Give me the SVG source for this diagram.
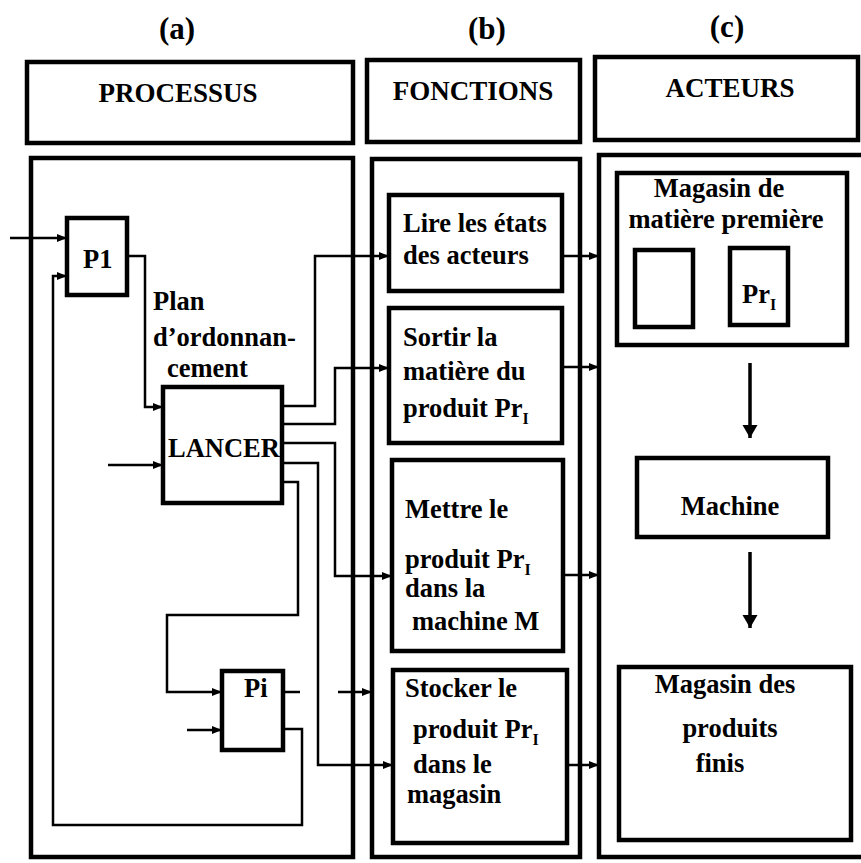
<svg xmlns="http://www.w3.org/2000/svg" width="861" height="863" viewBox="0 0 861 863">
<defs>
<style>
.t{font-family:"Liberation Serif","Times New Roman",serif;font-weight:bold;font-size:26.5px;fill:#000}
.h{font-size:27px}
.p{font-size:31px}
.sub{font-size:16px}
.panel{fill:none;stroke:#000;stroke-width:4.5}
.box{fill:none;stroke:#000;stroke-width:4.5}
.c{fill:none;stroke:#000;stroke-width:2.5;stroke-linejoin:miter}
.ca{marker-end:url(#ah)}
.big{fill:none;stroke:#000;stroke-width:3.5;marker-end:url(#ahb)}
</style>
<marker id="ah" markerUnits="userSpaceOnUse" markerWidth="11" markerHeight="10" refX="10" refY="5" orient="auto"><path d="M0,1 L10,5 L0,9 z" fill="#000"/></marker>
<marker id="ahb" markerUnits="userSpaceOnUse" markerWidth="15" markerHeight="16" refX="13" refY="8" orient="auto"><path d="M0,0.5 L13,8 L0,15.5 z" fill="#000"/></marker>
</defs>
<rect width="861" height="863" fill="#fff"/>

<g id="labels">
<text class="t p" x="177" y="39" text-anchor="middle">(a)</text>
<text class="t p" x="487" y="39" text-anchor="middle">(b)</text>
<text class="t p" x="727" y="37" text-anchor="middle">(c)</text>
</g>

<g id="hdr-processus"><rect class="box" x="27" y="62" width="326" height="81"/><text class="t h" x="178" y="102" text-anchor="middle">PROCESSUS</text></g>
<g id="hdr-fonctions"><rect class="box" x="367" y="60" width="213" height="82"/><text class="t h" x="473" y="100" text-anchor="middle">FONCTIONS</text></g>
<g id="hdr-acteurs"><rect class="box" x="595" y="57" width="263" height="83"/><text class="t h" x="730" y="97" text-anchor="middle">ACTEURS</text></g>

<g id="panel-processus"><rect class="panel" x="31" y="158" width="322" height="699"/></g>
<g id="panel-fonctions"><rect class="panel" x="372" y="159" width="208" height="698"/></g>
<g id="panel-acteurs"><rect class="panel" x="599" y="155" width="270" height="702"/></g>

<g id="connectors">
<path class="c ca" d="M10,238 H67"/>
<path class="c ca" d="M127,256 H145 V407 H163"/>
<path class="c ca" d="M108,465 H163"/>
<path class="c ca" d="M282,406 H315 V256 H389"/>
<path class="c ca" d="M282,424 H335 V368 H389"/>
<path class="c ca" d="M282,443 H335 V576 H392"/>
<path class="c ca" d="M282,463 H318 V765 H393"/>
<path class="c ca" d="M282,482 H298 V615 H167 V692 H222"/>
<path class="c ca" d="M187,730 H222"/>
<path class="c" d="M283,692 H300"/>
<path class="c ca" d="M338,692 H372"/>
<path class="c ca" d="M283,729 H302 V825 H53 V276 H67"/>
<path class="c ca" d="M562,256 H599"/>
<path class="c ca" d="M562,367 H599"/>
<path class="c ca" d="M563,575 H599"/>
<path class="c ca" d="M567,765 H599"/>
<path class="big" d="M750,363 V438"/>
<path class="big" d="M750,552 V628"/>
</g>

<g id="P1"><rect class="box" x="67" y="218" width="60" height="77"/><text class="t" x="83" y="268">P1</text></g>
<g id="plan-label">
<text class="t" x="153" y="310">Plan</text>
<text class="t" x="153" y="346">d’ordonnan-</text>
<text class="t" x="167" y="377">cement</text>
</g>
<g id="LANCER"><rect class="box" x="163" y="387" width="119" height="116"/><text class="t" x="168" y="457">LANCER</text></g>
<g id="Pi"><rect class="box" x="222" y="671" width="61" height="79"/><text class="t" x="244" y="697">Pi</text></g>

<g id="f-lire"><rect class="box" x="389" y="195" width="173" height="96"/>
<text class="t" x="403" y="232">Lire les états</text>
<text class="t" x="403" y="264">des acteurs</text></g>
<g id="f-sortir"><rect class="box" x="389" y="308" width="173" height="135"/>
<text class="t" x="403" y="346">Sortir la</text>
<text class="t" x="403" y="380">matière du</text>
<text class="t" x="403" y="417">produit Pr<tspan class="sub" dy="7">I</tspan></text></g>
<g id="f-mettre"><rect class="box" x="392" y="460" width="171" height="191"/>
<text class="t" x="405" y="518">Mettre le</text>
<text class="t" x="405" y="568">produit Pr<tspan class="sub" dy="7">I</tspan></text>
<text class="t" x="405" y="597">dans la</text>
<text class="t" x="412" y="630">machine M</text></g>
<g id="f-stocker"><rect class="box" x="393" y="670" width="174" height="173"/>
<text class="t" x="405" y="697">Stocker le</text>
<text class="t" x="413" y="738">produit Pr<tspan class="sub" dy="7">I</tspan></text>
<text class="t" x="413" y="773">dans le</text>
<text class="t" x="407" y="803">magasin</text></g>

<g id="a-magasin-mp"><rect class="box" x="617" y="173" width="230" height="172"/>
<text class="t" x="719" y="197" text-anchor="middle">Magasin de</text>
<text class="t" x="726" y="228" text-anchor="middle">matière première</text>
<rect class="box" x="635" y="250" width="58" height="77"/>
<rect class="box" x="730" y="248" width="58" height="77"/>
<text class="t" x="742" y="303">Pr<tspan class="sub" dy="7">I</tspan></text></g>
<g id="a-machine"><rect class="box" x="637" y="458" width="191" height="79"/>
<text class="t" x="730" y="515" text-anchor="middle">Machine</text></g>
<g id="a-magasin-pf"><rect class="box" x="619" y="667" width="232" height="173"/>
<text class="t" x="725" y="693" text-anchor="middle">Magasin des</text>
<text class="t" x="730" y="737" text-anchor="middle">produits</text>
<text class="t" x="720" y="772" text-anchor="middle">finis</text></g>
</svg>
